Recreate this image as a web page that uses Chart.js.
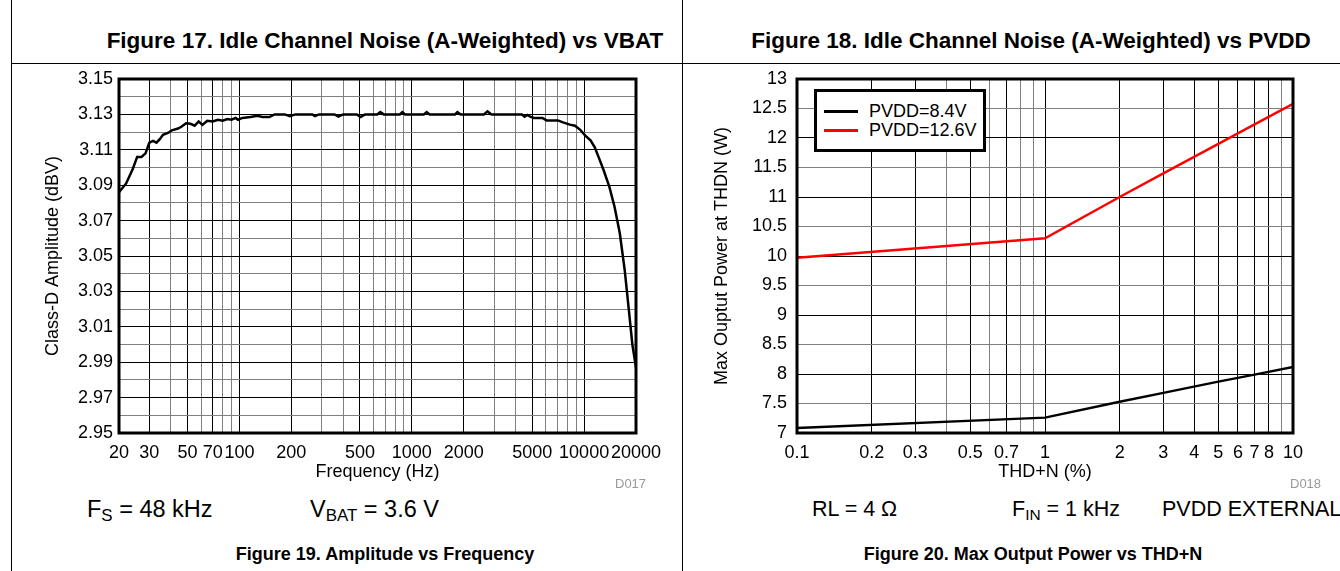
<!DOCTYPE html>
<html><head><meta charset="utf-8">
<script src="https://cdn.jsdelivr.net/npm/chart.js@4.4.1/dist/chart.umd.min.js"></script>
<style>
html,body{margin:0;padding:0;background:#fff;}
body{width:1340px;height:571px;position:relative;overflow:hidden;font-family:"Liberation Sans",Arial,sans-serif;color:#000;}
.vl{position:absolute;top:0;width:1px;height:571px;background:#000;}
.hl{position:absolute;left:11px;top:63px;width:1329px;height:1px;background:#000;}
.t{position:absolute;white-space:nowrap;line-height:1;}
.title{font-weight:bold;font-size:22.5px;transform:translate(-50%,-50%);}
.cap{font-weight:bold;font-size:18px;transform:translate(-50%,-50%);}
.note{font-size:21.5px;transform:translateY(-50%);}
.note.big{font-size:23.5px;}
.note sub{font-size:0.72em;vertical-align:-0.25em;line-height:0;}
.code{font-size:13px;color:#999;transform:translateY(-50%);}
.cv{position:absolute;top:55px;}
#legend{position:absolute;left:814px;top:89px;width:172px;height:63px;box-sizing:border-box;border:3px solid #000;background:#fff;padding-top:10px;font-size:18px;}
.lrow{height:19px;line-height:19px;display:flex;align-items:center;white-space:nowrap;}
.sw{display:inline-block;width:34px;height:3px;margin-left:7px;margin-right:11px;}
</style></head>
<body>
<div class="vl" style="left:11px"></div>
<div class="vl" style="left:682px"></div>
<div class="hl"></div>

<div class="t title" style="left:385px;top:41px">Figure 17. Idle Channel Noise (A-Weighted) vs VBAT</div>
<div class="t title" style="left:1031px;top:41px">Figure 18. Idle Channel Noise (A-Weighted) vs PVDD</div>

<canvas id="cL" class="cv" style="left:0px" width="682" height="440"></canvas>
<canvas id="cR" class="cv" style="left:682px" width="658" height="440"></canvas>
<div id="legend"></div>

<div class="t code" style="left:615px;top:483px">D017</div>
<div class="t code" style="left:1290px;top:483px">D018</div>

<div class="t note big" style="left:87px;top:510px">F<sub>S</sub> = 48 kHz</div>
<div class="t note big" style="left:310px;top:510px">V<sub>BAT</sub> = 3.6 V</div>
<div class="t note" style="left:812px;top:510px">RL = 4 Ω</div>
<div class="t note" style="left:1012px;top:510px">F<sub>IN</sub> = 1 kHz</div>
<div class="t note" style="left:1162px;top:510px">PVDD EXTERNAL</div>

<div class="t cap" style="left:385px;top:554px">Figure 19. Amplitude vs Frequency</div>
<div class="t cap" style="left:1033px;top:554px">Figure 20. Max Output Power vs THD+N</div>

<script>
// ---------- Figure 19 data ----------
const freqHz = [20,22,24,25.5,27,28.5,30,31.5,33,34.5,36,38.5,40.5,44,46,49,52,55,58,61,65,70,75,80,85,90,95,98,104,116,127,136,149,160,183,196,211,265,274,290,356,375,400,480,505,535,630,656,687,853,881,914,1175,1220,1270,1780,1840,1920,2620,2750,2900,4350,4510,4680,4870,5100,5730,6050,7040,7540,8260,8850,9490,10160,10890,11510,12200,12950,14000,15000,16100,17200,18200,19050,20000];
const ampDbv = [3.086,3.091,3.099,3.106,3.106,3.108,3.114,3.115,3.114,3.116,3.1185,3.1195,3.121,3.122,3.123,3.125,3.1247,3.1236,3.126,3.1241,3.1264,3.126,3.127,3.1264,3.1274,3.127,3.128,3.127,3.128,3.1285,3.1292,3.1285,3.1285,3.130,3.130,3.129,3.130,3.130,3.129,3.130,3.130,3.1288,3.130,3.130,3.1285,3.130,3.130,3.1313,3.130,3.130,3.1313,3.130,3.130,3.1313,3.130,3.130,3.1313,3.130,3.130,3.1317,3.130,3.130,3.1287,3.1297,3.1287,3.128,3.128,3.1266,3.1266,3.1255,3.1242,3.1236,3.1213,3.118,3.1153,3.1115,3.1053,3.0987,3.0892,3.078,3.063,3.042,3.019,3.000,2.987];
const freqGrid = [20,30,40,50,60,70,80,90,100,200,300,400,500,600,700,800,900,1000,2000,3000,4000,5000,6000,7000,8000,9000,10000,20000];
const freqLabels = [20,30,50,70,100,200,500,1000,2000,5000,10000,20000];
const ampGrid = [2.95,2.96,2.97,2.98,2.99,3.00,3.01,3.02,3.03,3.04,3.05,3.06,3.07,3.08,3.09,3.10,3.11,3.12,3.13,3.14,3.15];
const ampLabels = ['2.95','2.97','2.99','3.01','3.03','3.05','3.07','3.09','3.11','3.13','3.15'];

// ---------- Figure 20 data ----------
const thdPct = [0.1,1,2,3,5,7,10];
const power84 = [7.085,7.26,7.53,7.68,7.87,7.99,8.12];
const power126 = [9.97,10.3,11.0,11.4,11.9,12.23,12.58];
const seriesNames = ['PVDD=8.4V','PVDD=12.6V'];
const thdGrid = [0.1,0.2,0.3,0.4,0.5,0.6,0.7,0.8,0.9,1,2,3,4,5,6,7,8,9,10];
const thdLabels = [0.1,0.2,0.3,0.5,0.7,1,2,3,4,5,6,7,8,10];
const powerGrid = [7,7.5,8,8.5,9,9.5,10,10.5,11,11.5,12,12.5,13];

Chart.defaults.font.family = '"Liberation Sans", Arial, sans-serif';
Chart.defaults.color = '#000';

const GRAY = '#808080';
const near = (a,b) => Math.abs(a-b) < 1e-6 * Math.max(1,Math.abs(b));
const inList = (v, list) => list.some(x => near(v, x));

const framePlugin = {
  id: 'frame',
  afterDatasetsDraw(chart) {
    const {ctx, chartArea: a} = chart;
    ctx.save();
    ctx.lineWidth = 3;
    ctx.strokeStyle = '#000';
    ctx.strokeRect(a.left, a.top, a.right - a.left, a.bottom - a.top);
    ctx.restore();
  }
};

const common = {
  responsive: false,
  animation: false,
  devicePixelRatio: 1,
  plugins: { legend: { display: false }, tooltip: { enabled: false } }
};

// ---------- Left chart ----------
new Chart(document.getElementById('cL'), {
  type: 'line',
  data: {
    datasets: [{
      data: freqHz.map((f, i) => ({ x: f, y: ampDbv[i] })),
      borderColor: '#000', borderWidth: 2.5, pointRadius: 0, tension: 0, fill: false
    }]
  },
  options: Object.assign({}, common, {
    layout: { padding: { top: 24, right: 46, left: 0, bottom: 0 } },
    scales: {
      x: {
        type: 'logarithmic', min: 20, max: 20000,
        afterBuildTicks: s => { s.ticks = freqGrid.map(v => ({ value: v })); },
        afterFit: s => { s.height = 62; },
        ticks: { autoSkip: false, maxRotation: 0, padding: 9, font: { size: 18 },
          callback: v => inList(v, freqLabels) ? String(v) : '' },
        grid: { drawTicks: false,
          color: c => (c.tick && inList(c.tick.value, freqLabels)) ? '#000' : GRAY,
          lineWidth: 1 },
        border: { display: false },
        title: { display: true, text: 'Frequency (Hz)', font: { size: 18 }, padding: { top: 0, bottom: 12 } }
      },
      y: {
        type: 'linear', min: 2.95, max: 3.15,
        afterBuildTicks: s => { s.ticks = ampGrid.map(v => ({ value: v })); },
        afterFit: s => { s.width = 119; },
        ticks: { autoSkip: false, padding: 6, font: { size: 18 },
          callback: v => ampLabels.includes(Number(v).toFixed(2)) ? Number(v).toFixed(2) : '' },
        grid: { drawTicks: false,
          color: c => (c.tick && ampLabels.includes(Number(c.tick.value).toFixed(2))) ? '#000' : GRAY,
          lineWidth: 1 },
        border: { display: false },
        title: { display: true, text: 'Class-D Amplitude (dBV)', font: { size: 18 }, padding: { top: 42, bottom: 0 } }
      }
    }
  }),
  plugins: [framePlugin]
});

// ---------- Right chart ----------
const chartR = new Chart(document.getElementById('cR'), {
  type: 'line',
  data: {
    datasets: [
      { label: seriesNames[0], data: thdPct.map((t, i) => ({ x: t, y: power84[i] })),
        borderColor: '#000', borderWidth: 2.4, pointRadius: 0, tension: 0, fill: false },
      { label: seriesNames[1], data: thdPct.map((t, i) => ({ x: t, y: power126[i] })),
        borderColor: '#ff0000', borderWidth: 2.4, pointRadius: 0, tension: 0, fill: false }
    ]
  },
  options: Object.assign({}, common, {
    layout: { padding: { top: 24, right: 47, left: 0, bottom: 0 } },
    scales: {
      x: {
        type: 'logarithmic', min: 0.1, max: 10,
        afterBuildTicks: s => { s.ticks = thdGrid.map(v => ({ value: v })); },
        afterFit: s => { s.height = 62; },
        ticks: { autoSkip: false, maxRotation: 0, padding: 9, font: { size: 18 },
          callback: v => inList(v, thdLabels) ? String(Number(v.toPrecision(3))) : '' },
        grid: { drawTicks: false,
          color: c => (c.tick && inList(c.tick.value, thdLabels)) ? '#000' : GRAY,
          lineWidth: 1 },
        border: { display: false },
        title: { display: true, text: 'THD+N (%)', font: { size: 18 }, padding: { top: 0, bottom: 12 } }
      },
      y: {
        type: 'linear', min: 7, max: 13,
        afterBuildTicks: s => { s.ticks = powerGrid.map(v => ({ value: v })); },
        afterFit: s => { s.width = 115; },
        ticks: { autoSkip: false, padding: 10, font: { size: 18 },
          callback: v => String(v) },
        grid: { drawTicks: false,
          color: c => (c.tick && Number.isInteger(c.tick.value)) ? '#000' : GRAY,
          lineWidth: 1 },
        border: { display: false },
        title: { display: true, text: 'Max Ouptut Power at THDN (W)', font: { size: 18 }, padding: { top: 29, bottom: 0 } }
      }
    }
  }),
  plugins: [framePlugin]
});

// HTML legend built from the datasets
const lg = document.getElementById('legend');
chartR.data.datasets.forEach(ds => {
  const row = document.createElement('div');
  row.className = 'lrow';
  const sw = document.createElement('span');
  sw.className = 'sw';
  sw.style.background = ds.borderColor;
  const tx = document.createElement('span');
  tx.textContent = ds.label;
  row.appendChild(sw); row.appendChild(tx);
  lg.appendChild(row);
});
</script>
</body></html>
